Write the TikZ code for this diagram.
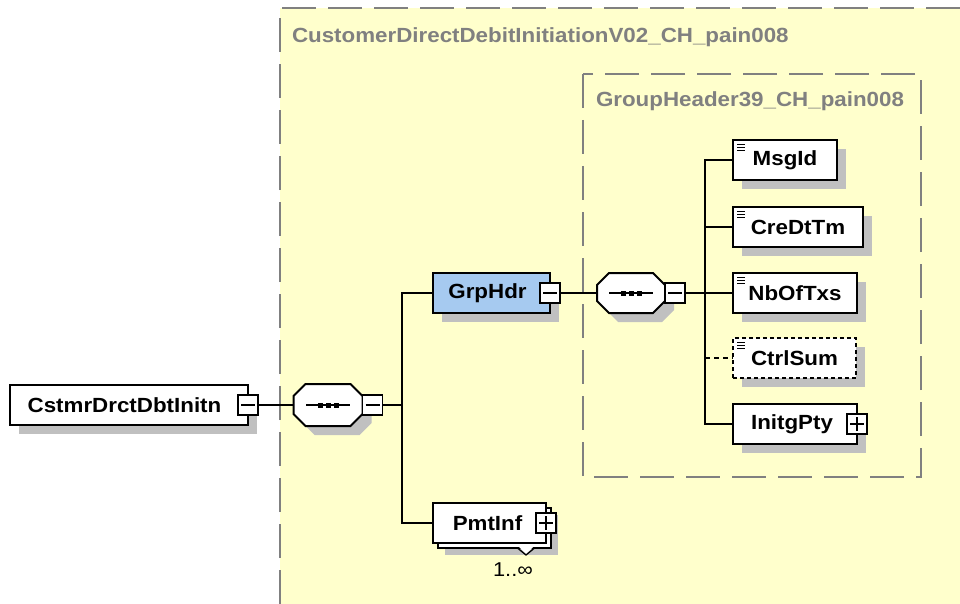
\documentclass[tikz,border=0pt]{standalone}
\usepackage{fontspec}
\newfontfamily\xsf[FakeStretch=1.09]{Liberation Sans}
\usetikzlibrary{shadows,calc}
\definecolor{bgyel}{HTML}{FFFFCC}
\definecolor{dgray}{HTML}{808080}
\definecolor{shgray}{HTML}{C0C0C0}
\definecolor{hdrblue}{HTML}{A6CAF0}
\newcommand\octdraw[1]{%
  \fill[shgray] ($(#1.north west)+(21,9)$) -- ($(#1.north east)+(-3,9)$) -- ($(#1.north east)+(9,21)$) -- ($(#1.south east)+(9,-3)$) -- ($(#1.south east)+(-3,9)$) -- ($(#1.south west)+(21,9)$) -- ($(#1.south west)+(9,-3)$) -- ($(#1.north west)+(9,21)$) -- cycle;
  \draw[line width=2pt, fill=white] ($(#1.north west)+(12,0)$) -- ($(#1.north east)+(-12,0)$) -- ($(#1.north east)+(0,12)$) -- ($(#1.south east)+(0,-12)$) -- ($(#1.south east)+(-12,0)$) -- ($(#1.south west)+(12,0)$) -- ($(#1.south west)+(0,-12)$) -- ($(#1.north west)+(0,12)$) -- cycle;
  \draw[line width=1.6pt] ($(#1.center)+(-22,0)$) -- ($(#1.center)+(22,0)$);
  \foreach \k in {-8,0,8} \fill ($(#1.center)+(\k-2.5,-2.5)$) rectangle ++(5,5);
}
\newcommand\simpleicon[1]{%
  \foreach \k in {0,1,2} \draw[line width=1.2pt] ($(#1.north west)+(4,4.5+3*\k)$) -- ++(8,0);
}
\begin{document}
\begin{tikzpicture}[x=1pt,y=-1pt,
  every node/.style={inner sep=0pt, outer sep=0pt},
  tfont/.style={font=\xsf\bfseries\fontsize{20.5}{24}\selectfont},
  elbase/.style={draw=black, line width=2pt, fill=white, minimum height=40pt, tfont},
  elem/.style={elbase, drop shadow={shadow xshift=9pt, shadow yshift=-9pt, fill=shgray, opacity=1}},
  optelem/.style={elem, dash pattern=on 4pt off 3pt},
  expander/.style={draw=black, line width=1.5pt, fill=white, minimum size=20pt},
  minusbox/.style={expander, path picture={\draw[line width=1.5pt] ($(path picture bounding box.west)+(3,0)$) -- ($(path picture bounding box.east)+(-3,0)$);}},
  plusbox/.style={expander, path picture={\draw[line width=1.5pt] ($(path picture bounding box.west)+(3,0)$) -- ($(path picture bounding box.east)+(-3,0)$); \draw[line width=1.5pt] ($(path picture bounding box.north)+(0,3)$) -- ($(path picture bounding box.south)+(0,-3)$);}},
  seq/.style={minimum width=69pt, minimum height=42pt},
  conn/.style={line width=2pt, black},
  grpbox/.style={draw=dgray, line width=2pt, dash pattern=on 34pt off 12pt},
  title/.style={tfont, text=dgray, anchor=west},
]
\useasboundingbox (0,0) rectangle (960,604);
\fill[white] (0,0) rectangle (960,604);
\fill[bgyel] (280,8) rectangle (960,604);
\draw[grpbox] (280,604) -- (280,8) -- (960,8);
\draw[grpbox] (583,74) rectangle (921,477);
\node[title] (t1) at (292,37) {CustomerDirectDebitInitiationV02\_CH\_pain008};
\node[title] (t2) at (596,101) {GroupHeader39\_CH\_pain008};

% root
\node[elem, minimum width=238pt] (root) at (129,405) {\hspace*{-9pt}CstmrDrctDbtInitn};
\node[minusbox] (rootx) at (root.east) {};

% sequence 1
\node[seq] (s1) at (328,405) {};
\octdraw{s1}
\node[minusbox, anchor=west] (s1x) at (s1.east) {};
\coordinate (b1) at (402,405);
\draw[conn] (rootx.east) -- (s1.west);
\draw[conn] (s1x.east) -- (b1);

% GrpHdr
\node[elem, fill=hdrblue, minimum width=117pt] (grp) at (491.5,293) {\hspace*{-8pt}GrpHdr};
\node[minusbox] (grpx) at (grp.east) {};

% PmtInf
\node[elbase, minimum width=113pt, drop shadow={shadow xshift=7pt, shadow yshift=-7pt, fill=shgray, opacity=1}] (pmtb) at (494.5,528) {};
\fill[white] ($(pmtb.south)+(24,-1.5)$) -- ($(pmtb.south)+(39,-1.5)$) -- ($(pmtb.south)+(31.5,6)$) -- cycle;
\draw[line width=1.3pt] ($(pmtb.south)+(23,0)$) -- ($(pmtb.south)+(31.5,7)$) -- ($(pmtb.south)+(40,0)$);
\node[elbase, minimum width=113pt] (pmt) at (489.5,523) {\hspace*{-4pt}PmtInf};
\node[plusbox] (pmtx) at (pmt.east) {};
\node[font=\xsf\fontsize{20}{23}\selectfont] (mult) at (513,570) {1..∞};

\draw[conn] (b1) |- (grp.west);
\draw[conn] (b1) |- (pmt.west);

% sequence 2
\node[seq, minimum width=68pt, minimum height=40pt] (s2) at (631,293) {};
\octdraw{s2}
\node[minusbox, anchor=west] (s2x) at (s2.east) {};
\coordinate (b2) at (705,293);
\draw[conn] (grpx.east) -- (s2.west);
\draw[conn] (s2x.east) -- (b2);

% children
\node[elem, minimum width=104pt] (msg) at (785,160) {MsgId};
\simpleicon{msg}
\node[elem, minimum width=130pt] (cre) at (798,227) {CreDtTm};
\simpleicon{cre}
\node[elem, minimum width=124pt] (nb) at (795,293) {NbOfTxs};
\simpleicon{nb}
\node[optelem, minimum width=123pt] (ctrl) at (794.5,358) {CtrlSum};
\simpleicon{ctrl}
\node[elem, minimum width=124pt] (ini) at (795,424) {\hspace*{-6pt}InitgPty};
\node[plusbox] (inix) at (ini.east) {};

\draw[conn] (b2) |- (msg.west);
\draw[conn] (b2) |- (cre.west);
\draw[conn] (b2) -- (nb.west);
\draw[conn] (b2) |- (ini.west);
\draw[conn, dash pattern=on 5pt off 4pt] (b2 |- ctrl.west) -- (ctrl.west);
\end{tikzpicture}
\end{document}
